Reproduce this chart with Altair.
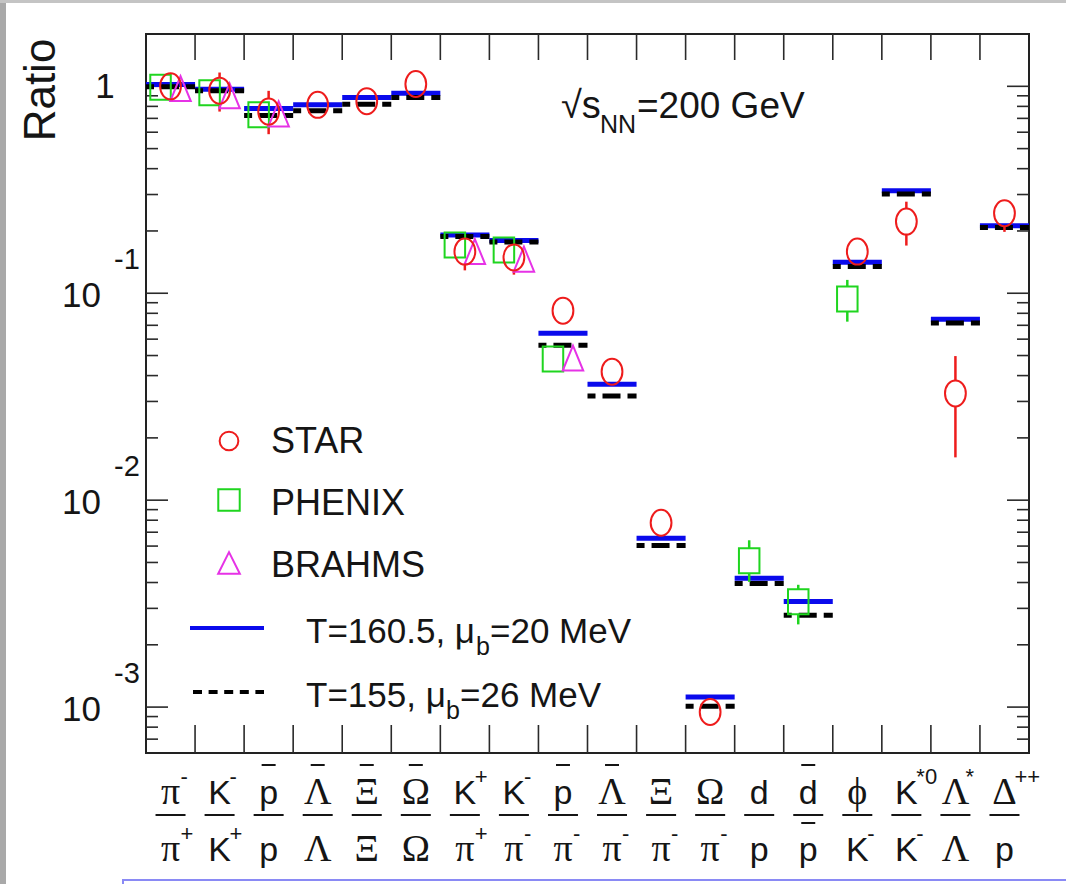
import altair as alt
import pandas as pd

# ---------------------------------------------------------------- layout
W, H = 883, 719            # plot frame in pixels
LEFT, TOP = 146, 34        # frame origin on the 1066x884 page
N_CAT = 18

SANS = "Liberation Sans, Arial, Helvetica, sans-serif"
SERIF = "Liberation Serif, Times New Roman, DejaVu Serif, serif"

RED = "#ee1c1c"
GREEN = "#1fd51f"
MAGENTA = "#e632e6"
BLUE = "#0a0aec"
INK = "#151515"

# ---------------------------------------------------------------- x-axis ratio labels
num_glyph = ["π", "K", "p", "Λ", "Ξ", "Ω", "K", "K", "p", "Λ", "Ξ", "Ω", "d", "d", "ϕ", "K", "Λ", "Δ"]
num_sup = ["-", "-", "", "", "", "", "+", "-", "", "", "", "", "", "", "", "*0", "*", "++"]
num_bar = [0, 0, 1, 1, 1, 1, 0, 0, 1, 1, 0, 0, 0, 1, 0, 0, 0, 0]
den_glyph = ["π", "K", "p", "Λ", "Ξ", "Ω", "π", "π", "π", "π", "π", "π", "p", "p", "K", "K", "Λ", "p"]
den_sup = ["+", "+", "", "", "", "", "+", "-", "-", "-", "-", "-", "", "", "-", "-", "", ""]
den_bar = [0, 0, 0, 0, 0, 0, 0, 0, 0, 0, 0, 0, 0, 1, 0, 0, 0, 0]
GREEK = "πΛΞΩϕΔ"

# ---------------------------------------------------------------- thermal model ratios
thermal_160 = [1.02, 0.967, 0.781, 0.814, 0.883, 0.927, 0.191, 0.180, 0.064, 0.0363,
               0.00654, 0.00112, 0.00419, 0.00324, 0.141, 0.3125, 0.0748, 0.212]
thermal_155 = [0.994, 0.953, 0.722, 0.761, 0.820, 0.883, 0.188, 0.177, 0.056, 0.0319,
               0.00604, 0.00101, 0.00396, 0.00278, 0.1345, 0.302, 0.0718, 0.208]

# ---------------------------------------------------------------- measurements
star_cat = [0, 1, 2, 3, 4, 5, 6, 7, 8, 9, 10, 11, 14, 15, 16, 17]
star_val = [1.0, 0.953, 0.755, 0.814, 0.848, 1.026, 0.159, 0.149, 0.0824, 0.0418,
            0.00778, 0.000948, 0.159, 0.222, 0.0328, 0.2437]
star_err_cat = [1, 2, 6, 7, 15, 16, 17]
star_err_val = [0.953, 0.755, 0.159, 0.149, 0.222, 0.0328, 0.2437]
star_err_lo = [0.755, 0.587, 0.129, 0.123, 0.170, 0.0161, 0.198]
star_err_hi = [1.166, 0.951, None, None, 0.277, 0.0497, None]

phenix_cat = [0, 1, 2, 6, 7, 8, 12, 13, 14]
phenix_val = [0.989, 0.932, 0.728, 0.171, 0.162, 0.0481, 0.00509, 0.00323, 0.0938]
phenix_err_cat = [12, 13, 14]
phenix_err_val = [0.00509, 0.00323, 0.0938]
phenix_err_lo = [0.00403, 0.00251, 0.0729]
phenix_err_hi = [0.0064, 0.0039, 0.116]

brahms_cat = [0, 1, 2, 6, 7, 8]
brahms_val = [0.975, 0.90, 0.735, 0.159, 0.146, 0.0486]

legend_labels = ["STAR", "PHENIX", "BRAHMS"]
model_label_a = ["T=160.5, μ", "b", "=20 MeV"]
model_label_b = ["T=155, μ", "b", "=26 MeV"]
energy_label = ["√s", "NN", "=200 GeV"]

# ---------------------------------------------------------------- axis ticks
y_major = [1.0, 0.1, 0.01, 0.001]
y_major_text = ["1", "10", "10", "10"]
y_major_exp = ["", "-1", "-2", "-3"]
y_minor = [0.0007, 0.0008, 0.0009,
           0.002, 0.003, 0.004, 0.005, 0.006, 0.007, 0.008, 0.009,
           0.02, 0.03, 0.04, 0.05, 0.06, 0.07, 0.08, 0.09,
           0.2, 0.3, 0.4, 0.5, 0.6, 0.7, 0.8, 0.9]
x_bounds = list(range(1, N_CAT))

xs = alt.Scale(domain=[0, N_CAT], nice=False, zero=False)
ys = alt.Scale(type="log", domain=[6e-4, 1.79], nice=False)

# marker outlines (tall, as in the original ROOT canvas)
ELLIPSE = "M 0 -1 A 0.8 1 0 1 1 0 1 A 0.8 1 0 1 1 0 -1 Z"
BOX = "M -0.82 -1 L 0.82 -1 L 0.82 1 L -0.82 1 Z"
TRI = "M 0 -1 L 0.82 1 L -0.82 1 Z"

dummy = pd.DataFrame({"k": [0]})


def X(field):
    return alt.X(field, type="quantitative", scale=xs, axis=None)


def Y(field):
    return alt.Y(field, type="quantitative", scale=ys, axis=None)


def text_at(s, x, y, size, font=SANS, align="left", color=INK, baseline="alphabetic", **kw):
    return alt.Chart(dummy).mark_text(
        text=s, font=font, fontSize=size, align=align, baseline=baseline,
        color=color, **kw
    ).encode(x=alt.value(x), y=alt.value(y))


layers = []

# ---------------------------------------------------------------- page decoration
layers.append(alt.Chart(dummy).mark_rect(fill="#a9a9a9").encode(
    x=alt.value(-LEFT), x2=alt.value(-LEFT + 6), y=alt.value(-TOP), y2=alt.value(884 - TOP)))
layers.append(alt.Chart(dummy).mark_rect(fill="#c4c4c4").encode(
    x=alt.value(-LEFT), x2=alt.value(1066 - LEFT), y=alt.value(-TOP), y2=alt.value(-TOP + 3)))
layers.append(alt.Chart(dummy).mark_rect(fill="white", stroke="#8a8af5", strokeWidth=2).encode(
    x=alt.value(123 - LEFT), x2=alt.value(1080 - LEFT), y=alt.value(880 - TOP), y2=alt.value(900 - TOP)))

# ---------------------------------------------------------------- frame ticks
maj = pd.DataFrame({"v": y_major, "t": y_major_text, "e": y_major_exp})
mnr = pd.DataFrame({"v": y_minor})
bnd = pd.DataFrame({"b": x_bounds})
tick_style = dict(color="#2a2a2a", strokeWidth=1.6)
layers += [
    alt.Chart(maj).mark_rule(**tick_style).encode(y=Y("v"), x=alt.value(0), x2=alt.value(22)),
    alt.Chart(mnr).mark_rule(**tick_style).encode(y=Y("v"), x=alt.value(0), x2=alt.value(12)),
    alt.Chart(maj).mark_rule(**tick_style).encode(y=Y("v"), x=alt.value(W), x2=alt.value(W - 22)),
    alt.Chart(mnr).mark_rule(**tick_style).encode(y=Y("v"), x=alt.value(W), x2=alt.value(W - 12)),
    alt.Chart(bnd).mark_rule(**tick_style).encode(x=X("b"), y=alt.value(0), y2=alt.value(26)),
    alt.Chart(bnd).mark_rule(**tick_style).encode(x=X("b"), y=alt.value(H), y2=alt.value(H - 28)),
]

# y tick labels: 1, 10^-1, 10^-2, 10^-3
layers += [
    alt.Chart(maj).transform_filter("datum.e == ''").mark_text(
        font=SANS, fontSize=35, align="center", baseline="middle", color=INK, dy=1
    ).encode(y=Y("v"), x=alt.value(105 - LEFT), text="t:N"),
    alt.Chart(maj).transform_filter("datum.e != ''").mark_text(
        font=SANS, fontSize=35, align="right", baseline="middle", color=INK, dy=3
    ).encode(y=Y("v"), x=alt.value(101 - LEFT), text="t:N"),
    alt.Chart(maj).transform_filter("datum.e != ''").mark_text(
        font=SANS, fontSize=29, align="center", baseline="middle", color=INK, dy=-33
    ).encode(y=Y("v"), x=alt.value(127 - LEFT), text="e:N"),
]

# axis title
layers.append(text_at("Ratio", 42 - LEFT, 90 - TOP, 44, align="center",
                      baseline="middle", angle=270))

# ---------------------------------------------------------------- x labels (fractions)
def label_row(glyphs, sups, bars, base_y, sup_y, bar_y):
    df = pd.DataFrame({
        "cat": list(range(N_CAT)), "g": glyphs, "s": sups, "bar": bars,
        "greek": [g in GREEK for g in glyphs],
    })
    base = alt.Chart(df).transform_calculate(xc="datum.cat + 0.5")
    return [
        base.transform_filter("datum.greek").mark_text(
            font=SERIF, fontSize=38, align="center", baseline="alphabetic", color=INK
        ).encode(x=X("xc"), y=alt.value(base_y), text="g:N"),
        base.transform_filter("!datum.greek").mark_text(
            font=SANS, fontSize=34, align="center", baseline="alphabetic", color=INK
        ).encode(x=X("xc"), y=alt.value(base_y), text="g:N"),
        base.transform_filter("datum.s != ''").mark_text(
            font=SANS, fontSize=22, align="left", baseline="alphabetic", color=INK, dx=10
        ).encode(x=X("xc"), y=alt.value(sup_y), text="s:N"),
        base.transform_filter("datum.bar == 1").mark_tick(
            orient="horizontal", size=14, thickness=2, color=INK, opacity=1
        ).encode(x=X("xc"), y=alt.value(bar_y)),
    ]


layers += label_row(num_glyph, num_sup, num_bar, 804 - TOP, 784 - TOP, 765 - TOP)
layers += label_row(den_glyph, den_sup, den_bar, 861 - TOP, 841 - TOP, 823 - TOP)
frac = pd.DataFrame({"cat": list(range(N_CAT))})
layers.append(alt.Chart(frac).transform_calculate(xc="datum.cat + 0.5").mark_tick(
    orient="horizontal", size=30, thickness=2, color=INK, opacity=1
).encode(x=X("xc"), y=alt.value(815 - TOP)))

# ---------------------------------------------------------------- thermal model steps
th = pd.DataFrame({"c0": list(range(N_CAT)), "c1": list(range(1, N_CAT + 1)),
                   "a": thermal_160, "b": thermal_155})
layers.append(alt.Chart(th).mark_rule(color=BLUE, strokeWidth=5, strokeCap="butt").encode(
    x=X("c0"), x2="c1:Q", y=Y("a")))
layers.append(alt.Chart(th).mark_rule(color="black", strokeWidth=5, strokeCap="butt",
                                      strokeDash=[18, 7], strokeDashOffset=10).encode(
    x=X("c0"), x2="c1:Q", y=Y("b")))

# ---------------------------------------------------------------- error bars
def err_layers(cats, vals, lo, hi, color, gap, xoff):
    df = pd.DataFrame({"cat": cats, "v": vals, "lo": lo, "hi": hi})
    base = alt.Chart(df).transform_calculate(xc="datum.cat + 0.5")
    return [
        base.mark_rule(color=color, strokeWidth=2.5, yOffset=gap, xOffset=xoff).encode(
            x=X("xc"), y=Y("v"), y2="lo:Q"),
        base.transform_filter("isValid(datum.hi)").mark_rule(
            color=color, strokeWidth=2.5, y2Offset=-gap, xOffset=xoff).encode(
            x=X("xc"), y=Y("hi"), y2="v:Q"),
    ]


layers += err_layers(star_err_cat, star_err_val, star_err_lo, star_err_hi, RED, 13, 0)
layers += err_layers(phenix_err_cat, phenix_err_val, phenix_err_lo, phenix_err_hi, GREEN, 12.5, -10)

# ---------------------------------------------------------------- markers
def markers(cats, vals, shape, size, color, xoff):
    df = pd.DataFrame({"cat": cats, "v": vals})
    return alt.Chart(df).transform_calculate(xc="datum.cat + 0.5").mark_point(
        shape=shape, size=size, filled=False, color=color, strokeWidth=2, opacity=1,
        xOffset=xoff
    ).encode(x=X("xc"), y=Y("v"))


layers.append(markers(phenix_cat, phenix_val, BOX, 625, GREEN, -10))
layers.append(markers(brahms_cat, brahms_val, TRI, 625, MAGENTA, 10))
layers.append(markers(star_cat, star_val, ELLIPSE, 676, RED, 0))

# ---------------------------------------------------------------- legend
def legend_marker(shape, size, color, x, y):
    return alt.Chart(dummy).mark_point(
        shape=shape, size=size, filled=False, color=color, strokeWidth=2, opacity=1
    ).encode(x=alt.value(x - LEFT), y=alt.value(y - TOP))


layers += [
    legend_marker("circle", 350, RED, 229, 441),
    legend_marker("square", 460, GREEN, 229, 500),
    legend_marker("M 0 -1 L 1 1 L -1 1 Z", 470, MAGENTA, 229, 563),
    text_at(legend_labels[0], 271 - LEFT, 453 - TOP, 36),
    text_at(legend_labels[1], 271 - LEFT, 515 - TOP, 36),
    text_at(legend_labels[2], 271 - LEFT, 577 - TOP, 36),
    alt.Chart(dummy).mark_rule(color=BLUE, strokeWidth=4, strokeCap="butt").encode(
        x=alt.value(190 - LEFT), x2=alt.value(264 - LEFT), y=alt.value(628 - TOP)),
    alt.Chart(dummy).mark_rule(color="black", strokeWidth=4, strokeCap="butt",
                               strokeDash=[9, 6.6]).encode(
        x=alt.value(193 - LEFT), x2=alt.value(264 - LEFT), y=alt.value(692 - TOP)),
    text_at(model_label_a[0], 306 - LEFT, 643 - TOP, 35),
    text_at(model_label_a[1], 476 - LEFT, 655 - TOP, 25),
    text_at(model_label_a[2], 490 - LEFT, 643 - TOP, 35),
    text_at(model_label_b[0], 306 - LEFT, 707 - TOP, 35),
    text_at(model_label_b[1], 446 - LEFT, 719 - TOP, 25),
    text_at(model_label_b[2], 460 - LEFT, 707 - TOP, 35),
]

# collision energy
layers += [
    text_at(energy_label[0], 561 - LEFT, 118 - TOP, 38),
    text_at(energy_label[1], 600 - LEFT, 133 - TOP, 25),
    text_at(energy_label[2], 637 - LEFT, 118 - TOP, 37),
]

chart = alt.layer(*layers).properties(
    width=W, height=H,
    padding={"left": LEFT, "top": TOP, "right": 1066 - LEFT - W, "bottom": 884 - TOP - H},
    autosize=alt.AutoSizeParams(type="none"),
    background="white",
).configure_view(stroke="#222222", strokeWidth=2)

chart.save("out.html", embed_options={"renderer": "svg", "actions": False})
